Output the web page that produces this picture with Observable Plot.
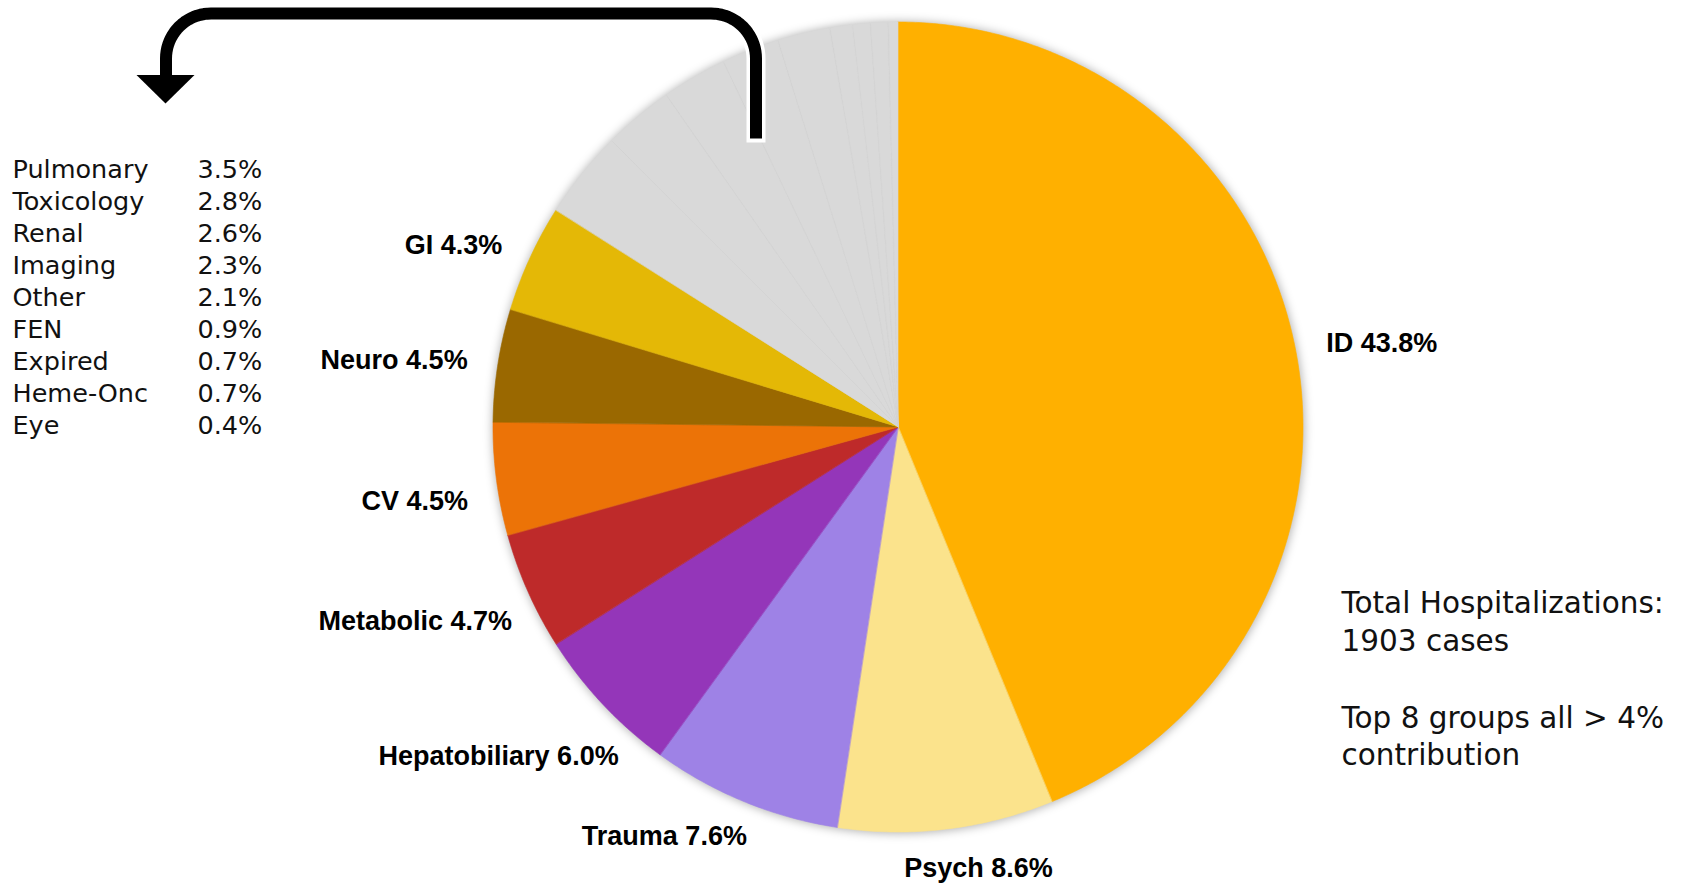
<!DOCTYPE html>
<html>
<head>
<meta charset="utf-8">
<script src="https://cdn.jsdelivr.net/npm/d3@7"></script>
<script src="https://cdn.jsdelivr.net/npm/@observablehq/plot@0.6"></script>
<style>
  html, body { margin: 0; padding: 0; background: #ffffff; }
  #chart svg { display: block; background: #ffffff; }
  .pie-shadow circle { filter: blur(5px); }
</style>
</head>
<body>
<div id="chart"></div>
<script>
// ---------- DATA ----------
const mainGroups = ["ID", "Psych", "Trauma", "Hepatobiliary", "Metabolic", "CV", "Neuro", "GI"];
const mainShares = [43.8, 8.6, 7.6, 6.0, 4.7, 4.5, 4.5, 4.3];
const mainColors = ["#FFB000", "#FBE38C", "#9E82E6", "#9436B9", "#BE2A2A", "#EC7307", "#9A6800", "#E4B806"];

const otherGroups = ["Pulmonary", "Toxicology", "Renal", "Imaging", "Other", "FEN", "Expired", "Heme-Onc", "Eye"];
const otherShares = [3.5, 2.8, 2.6, 2.3, 2.1, 0.9, 0.7, 0.7, 0.4];
const otherColor = "#D9D9D9";

const totalCases = 1903;
const threshold = 4;

// ---------- LAYOUT ----------
const W = 1685, H = 883;
const CX = 898, CY = 427, R = 405;
const LABEL_R = 436;
const labelNudge = { Psych: [28, 8], Trauma: [14, 6], Hepatobiliary: [38, 30], Metabolic: [12, 17], CV: [2, 18] };

// ---------- BUILD SLICES ----------
const slices = [];
let acc = 0;
mainGroups.forEach((g, i) => { slices.push({ name: g, share: mainShares[i], main: true, start: acc, end: acc + mainShares[i] }); acc += mainShares[i]; });
otherGroups.forEach((g, i) => { slices.push({ name: g, share: otherShares[i], main: false, start: acc, end: acc + otherShares[i] }); acc += otherShares[i]; });
const total = acc;
const ang = v => v / total * 2 * Math.PI;
const px = (a, r) => CX + r * Math.sin(a);
const py = (a, r) => CY - r * Math.cos(a);

const arcRows = [];
for (const s of slices) {
  const a0 = ang(s.start), a1 = ang(s.end);
  const n = Math.max(2, Math.ceil((a1 - a0) / (Math.PI / 360)));
  for (let k = 0; k <= n; k++) {
    const a = a0 + (a1 - a0) * k / n;
    arcRows.push({ name: s.name, x: px(a, R), y: py(a, R), cx: CX, cy: CY });
  }
}
const subBoundaries = slices.filter(s => !s.main).slice(0, -1).map(s => {
  const a = ang(s.end);
  return { x1: CX, y1: CY, x2: px(a, R), y2: py(a, R) };
});

const colorDomain = slices.map(s => s.name);
const colorRange = mainColors.concat(otherGroups.map(() => otherColor));

// labels of main groups
const labels = slices.filter(s => s.main).map(s => {
  const a = ang((s.start + s.end) / 2);
  const nd = labelNudge[s.name] || [0, 0];
  const deg = a * 180 / Math.PI;
  const anchor = deg < 150 ? "start" : deg < 190 ? "middle" : "end";
  return { text: `${s.name} ${s.share.toFixed(1)}%`, x: px(a, LABEL_R) + nd[0], y: py(a, LABEL_R) + nd[1], anchor };
});

// left list of small groups
const listRows = otherGroups.map((g, i) => ({ name: g, value: `${otherShares[i].toFixed(1)}%`, y: 169 + i * 32 }));

// right notes
const notes = [
  { text: "Total Hospitalizations:", y: 603 },
  { text: `${totalCases} cases`, y: 641.5 },
  { text: `Top ${mainGroups.length} groups all > ${threshold}%`, y: 718 },
  { text: "contribution", y: 755.5 }
];

// arrow (annotation) path: from top of the grey wedge, up, left, down
const arrowPts = [];
{
  const xr = 755.5, xl = 165.5, yt = 13, rc = 45;
  arrowPts.push({ x: xr, y: 138 });
  arrowPts.push({ x: xr, y: yt + rc });
  for (let k = 0; k <= 20; k++) { const t = k / 20 * Math.PI / 2; arrowPts.push({ x: xr - rc + rc * Math.cos(t), y: yt + rc - rc * Math.sin(t) }); }
  arrowPts.push({ x: xl + rc, y: yt });
  for (let k = 0; k <= 20; k++) { const t = Math.PI / 2 + k / 20 * Math.PI / 2; arrowPts.push({ x: xl + rc + rc * Math.cos(t), y: yt + rc - rc * Math.sin(t) }); }
  arrowPts.push({ x: xl, y: 80 });
}
const arrowWhite = [{ x: 755.5, y: 142 }].concat(arrowPts.slice(1));
const arrowHead = [{ x: 136.5, y1: 75, y2: 75 }, { x: 165.5, y1: 75, y2: 103.5 }, { x: 194.5, y1: 75, y2: 75 }];

const labelFont = { fontFamily: "Liberation Sans, Arial, sans-serif", fontWeight: "bold", fontSize: 27, fill: "#000" };
const bodyFont = { fontFamily: "DejaVu Sans, sans-serif", fill: "#111" };

// ---------- PLOT ----------
const plot = Plot.plot({
  width: W,
  height: H,
  margin: 0,
  x: { domain: [0, W], range: [0, W], axis: null },
  y: { domain: [0, H], range: [0, H], axis: null },
  color: { domain: colorDomain, range: colorRange },
  style: { background: "#ffffff" },
  marks: [
    Plot.dot([{ x: CX, y: CY }], { x: "x", y: "y", r: R + 1, fill: "#000", fillOpacity: 0.3, stroke: "none", className: "pie-shadow" }),
    Plot.area(arcRows, { x1: "x", y1: "y", x2: "cx", y2: "cy", z: "name", fill: "name", stroke: "name", strokeWidth: 0.6, curve: "linear" }),
    Plot.link(subBoundaries, { x1: "x1", y1: "y1", x2: "x2", y2: "y2", stroke: "#c8c8c8", strokeWidth: 0.5, strokeOpacity: 0.35 }),
    Plot.line(arrowWhite, { x: "x", y: "y", stroke: "#ffffff", strokeWidth: 19, strokeLinejoin: "round", strokeLinecap: "butt", curve: "linear" }),
    Plot.line(arrowPts, { x: "x", y: "y", stroke: "#000000", strokeWidth: 12, strokeLinejoin: "round", strokeLinecap: "butt", curve: "linear" }),
    Plot.areaY(arrowHead, { x: "x", y1: "y1", y2: "y2", fill: "#000000", curve: "linear" }),
    Plot.text(labels.filter(d => d.anchor === "start"), { x: "x", y: "y", text: "text", textAnchor: "start", ...labelFont }),
    Plot.text(labels.filter(d => d.anchor === "middle"), { x: "x", y: "y", text: "text", textAnchor: "middle", ...labelFont }),
    Plot.text(labels.filter(d => d.anchor === "end"), { x: "x", y: "y", text: "text", textAnchor: "end", ...labelFont }),
    Plot.text(listRows, { x: () => 12, y: "y", text: "name", textAnchor: "start", fontSize: 25.5, ...bodyFont }),
    Plot.text(listRows, { x: () => 197, y: "y", text: "value", textAnchor: "start", fontSize: 25.5, ...bodyFont }),
    Plot.text(notes, { x: () => 1341, y: "y", text: "text", textAnchor: "start", fontSize: 29.5, ...bodyFont })
  ]
});
document.getElementById("chart").appendChild(plot);
</script>
</body>
</html>
